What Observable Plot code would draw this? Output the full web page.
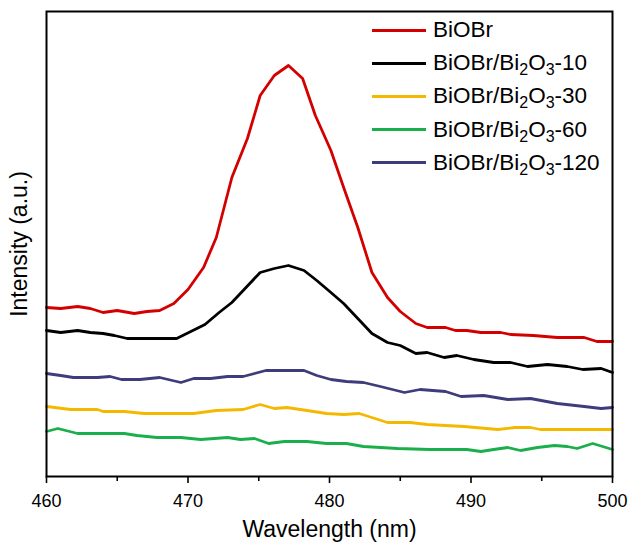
<!DOCTYPE html>
<html><head><meta charset="utf-8">
<script src="https://cdn.jsdelivr.net/npm/d3@7"></script>
<script src="https://cdn.jsdelivr.net/npm/@observablehq/plot@0.6"></script>
<style>
body{margin:0;background:#fff}
#wrap{position:relative;width:630px;height:543px;font-family:Arial,"Liberation Sans",sans-serif}
#legend{position:absolute;left:372px;top:0}
.row{position:absolute;left:0;white-space:nowrap}
.sw{position:absolute;left:0;width:54px;height:3px;top:-1.5px}
.lab{position:absolute;left:61px;top:-11px;font-size:22.5px;line-height:22.5px;color:#000}
.lab sub{font-size:16px;vertical-align:-5px;line-height:0}
</style>
</head><body><div id="wrap"></div>
<script>
const seriesNames = ["BiOBr","BiOBr/Bi2O3-10","BiOBr/Bi2O3-30","BiOBr/Bi2O3-60","BiOBr/Bi2O3-120"];
const seriesLabels = ["BiOBr","BiOBr/Bi<sub>2</sub>O<sub>3</sub>-10","BiOBr/Bi<sub>2</sub>O<sub>3</sub>-30","BiOBr/Bi<sub>2</sub>O<sub>3</sub>-60","BiOBr/Bi<sub>2</sub>O<sub>3</sub>-120"];
const seriesColors = ["#d40000","#000000","#f5b800","#1aaf4b","#3d3d7c"];
const xTicks = [460,470,480,490,500];
const xMinorTicks = [465,475,485,495];

const wlBiOBr = [460,461,462.2,463.1,464,465,466.2,467.1,468,469,470,471.1,472,473.1,474.2,475.1,476.1,477.1,478.1,479,480.1,481,482,483,484.1,485,486.1,486.9,488.2,488.9,489.7,490.7,492.1,492.8,494.4,496.1,498,498.9,500];
const valBiOBr = [169,168,170,168,164,166,163,165,166,173,187,209,239,299,338,381,401,411,398,361,326,289,249,204,179,165,153,149,149,146,146,144,144,142,141,139,139,135,135];

const wl10 = [460,461,462.2,463.1,464,464.8,465.7,467.1,469.2,470.2,471.2,472.2,473.1,474.1,475.1,476.1,477.1,478.2,479.1,480.1,481,482,483,484.1,485,486.1,486.9,488.1,489,490.2,491.6,492.8,494,495.4,496.8,497.9,499.2,500];
const val10 = [146,144,146,144,143,141,138,138,138,145,152,164,174,189,204,208,211,206,196,184,173,158,143,134,131,123,124,119,121,117,114,114,110,112,110,107,108,104];

const wl30 = [460,461.7,463.6,464,465.5,466.9,470.4,472,473.9,475.1,476.1,477,478.4,479.8,481,482.1,484.1,485.7,486.9,489.5,491.9,493.1,494.2,494.9,500];
const val30 = [70,67,67,65,65,63,63,66,67,72,68,69,66,63,62,63,54,54,52,50,47,49,49,47,47];

const wl60 = [460,460.8,462.2,465.5,466.4,467.8,469.5,470.9,472.8,473.7,474.7,475.7,476.8,478.4,479.8,481.2,482.4,484.8,487.1,489.7,490.7,491.6,492.6,493.5,494.7,495.9,496.8,497.5,498.6,500];
const val60 = [45,48,43,43,41,39,39,37,39,37,38,33,35,35,33,33,30,28,27,27,25,27,29,26,29,31,30,28,33,27];

const wl120 = [460,461,461.9,463.6,464.5,465.3,466.6,468,469.5,470.4,471.6,472.8,473.9,475.5,477.2,478.2,479.1,480.1,481.2,482.4,483.6,485.3,486.4,488.2,489.3,490.9,492.6,494.2,496.1,498,499.2,500];
const val120 = [103,101,99,99,100,97,97,99,94,98,98,100,100,106,106,106,101,97,95,94,90,84,87,85,80,81,77,78,73,70,68,69];

const wls = [wlBiOBr, wl10, wl30, wl60, wl120];
const vals = [valBiOBr, val10, val30, val60, val120];
const data = seriesNames.flatMap((s, i) => wls[i].map((w, j) => ({series: s, wl: w, v: vals[i][j]})));

const plot = Plot.plot({
  width: 630, height: 543,
  marginTop: 11, marginBottom: 67, marginLeft: 46, marginRight: 18,
  style: {fontFamily: "Arial, 'Liberation Sans', sans-serif", background: "white", color: "black"},
  x: {domain: [460, 500]},
  y: {domain: [0, 465], axis: null},
  color: {domain: seriesNames, range: seriesColors},
  marks: [
    Plot.line(data, {x: "wl", y: "v", z: "series", stroke: "series", strokeWidth: 2.8, strokeLinejoin: "round"}),
    Plot.frame({stroke: "black", strokeWidth: 2}),
    Plot.axisX({ticks: xTicks, tickSize: 7, tickPadding: 11, fontSize: 18, strokeWidth: 1.6, label: null}),
    Plot.axisX({ticks: xMinorTicks, tickSize: 5, strokeWidth: 1.6, text: null, label: null}),
    Plot.text(["Wavelength (nm)"], {frameAnchor: "bottom", dy: 60, fontSize: 23, fill: "black"}),
    Plot.text(["Intensity (a.u.)"], {frameAnchor: "left", textAnchor: "middle", dx: -27, rotate: -90, fontSize: 23, fill: "black"})
  ]
});
const wrap = document.getElementById("wrap");
wrap.appendChild(plot);
const leg = document.createElement("div");
leg.id = "legend";
seriesLabels.forEach((lab, i) => {
  const row = document.createElement("div");
  row.className = "row";
  row.style.top = (30 + i * 33.2) + "px";
  row.innerHTML = `<div class="sw" style="background:${seriesColors[i]}"></div><div class="lab">${lab}</div>`;
  leg.appendChild(row);
});
wrap.appendChild(leg);
</script>
</body></html>
